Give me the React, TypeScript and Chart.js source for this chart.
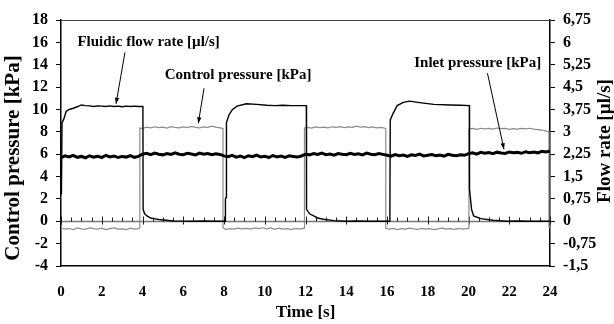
import React, { useEffect, useRef } from 'react';
import { Chart, registerables } from 'chart.js';

Chart.register(...registerables);

const FONT = "'Liberation Serif', 'Times New Roman', Times, serif";

// ---- axis ranges / labels ----
const timeMin = 0;
const timeMax = 24;
const timeStep = 2;
const pressureMin = -4;
const pressureMax = 18;
const pressureStep = 2;
const flowMin = -1.5;
const flowMax = 6.75;
const flowStep = 0.75;

const xTitle = 'Time [s]';
const leftTitle = 'Control pressure [kPa]';
const rightTitle = 'Flow rate [µl/s]';

// ---- Fluidic flow rate [µl/s] (right axis) ----
const flowT = [
  0.02, 0.05, 0.15, 0.25, 0.4, 0.6, 0.8, 1.0, 1.2, 1.4, 1.6, 1.8, 2.0, 2.2, 2.4, 2.6, 2.8, 3.0, 3.2, 3.4, 3.6, 3.8, 4.02,
  4.03, 4.1, 4.22, 4.4, 4.55, 4.8, 5.04, 5.5, 6.0, 6.5, 7.0, 7.5, 8.06,
  8.07, 8.1, 8.12, 8.25, 8.42, 8.64, 9.1, 9.6, 10.1, 10.5, 10.9, 11.3, 11.7, 12.04,
  12.05, 12.2, 12.4, 12.6, 12.88, 13.4, 14.0, 14.5, 15.0, 15.5, 16.14,
  16.16, 16.3, 16.5, 16.8, 17.1, 17.6, 18.3, 19.1, 19.6, 20.04,
  20.05, 20.15, 20.25, 20.6, 21.2, 21.9, 22.5, 23.0, 23.5, 24.0,
];
const flowV = [
  0.9, 3.3, 3.45, 3.68, 3.75, 3.79, 3.84, 3.9, 3.88, 3.87, 3.85, 3.87, 3.86, 3.85, 3.87, 3.85, 3.86, 3.84, 3.86, 3.85, 3.86, 3.85, 3.85,
  0.4, 0.26, 0.18, 0.11, 0.09, 0.06, 0.045, 0.01, 0.005, 0.0, 0.01, 0.0, 0.0,
  0.75, 0.8, 3.3, 3.58, 3.75, 3.86, 3.94, 3.92, 3.89, 3.88, 3.89, 3.88, 3.88, 3.88,
  0.4, 0.25, 0.18, 0.11, 0.07, 0.02, 0.0, 0.01, 0.0, 0.005, 0.0,
  3.4, 3.62, 3.88, 3.99, 4.03, 3.98, 3.92, 3.9, 3.89, 3.88,
  1.07, 0.4, 0.18, 0.09, 0.035, 0.0, 0.01, 0.0, 0.005, 0.0,
];

// ---- Control pressure [kPa] (left axis) ----
const ctrlT = [
  0.0, 0.2, 0.4, 0.6, 0.8, 1.0, 1.2, 1.4, 1.6, 1.8, 2.0, 2.2, 2.4, 2.6, 2.8, 3.0, 3.2, 3.4, 3.6, 3.8, 3.87,
  3.87, 4.0, 4.2, 4.4, 4.6, 4.8, 5.0, 5.2, 5.4, 5.6, 5.8, 6.0, 6.2, 6.4, 6.6, 6.8, 7.0, 7.2, 7.4, 7.6, 7.8, 7.95,
  7.95, 8.1, 8.3, 8.5, 8.7, 8.9, 9.1, 9.3, 9.5, 9.7, 9.9, 10.1, 10.3, 10.5, 10.7, 10.9, 11.1, 11.3, 11.5, 11.7, 11.95,
  11.95, 12.1, 12.3, 12.5, 12.7, 12.9, 13.1, 13.3, 13.5, 13.7, 13.9, 14.1, 14.3, 14.5, 14.7, 14.9, 15.1, 15.3, 15.5, 15.7, 15.94,
  15.94, 16.1, 16.3, 16.5, 16.7, 16.9, 17.1, 17.3, 17.5, 17.7, 17.9, 18.1, 18.3, 18.5, 18.7, 18.9, 19.1, 19.3, 19.5, 19.7, 20.02,
  20.02, 20.2, 20.4, 20.6, 20.8, 21.0, 21.2, 21.4, 21.6, 21.8, 22.0, 22.2, 22.4, 22.6, 22.8, 23.0, 23.2, 23.4, 23.6, 23.8, 23.95,
  23.95, 24.0,
];
const ctrlV = [
  -0.6, -0.7, -0.65, -0.75, -0.6, -0.68, -0.72, -0.6, -0.66, -0.7, -0.62, -0.74, -0.66, -0.6, -0.7, -0.68, -0.75, -0.62, -0.7, -0.66, -0.6,
  8.35, 8.3, 8.42, 8.36, 8.45, 8.38, 8.42, 8.34, 8.46, 8.4, 8.36, 8.44, 8.38, 8.48, 8.4, 8.36, 8.44, 8.4, 8.5, 8.42, 8.35, 8.3,
  -0.6, -0.72, -0.66, -0.7, -0.62, -0.68, -0.64, -0.7, -0.6, -0.66, -0.58, -0.68, -0.6, -0.72, -0.62, -0.7, -0.66, -0.74, -0.64, -0.7, -0.62,
  8.35, 8.4, 8.34, 8.44, 8.38, 8.42, 8.36, 8.45, 8.4, 8.47, 8.38, 8.44, 8.4, 8.5, 8.42, 8.46, 8.38, 8.44, 8.36, 8.4, 8.3,
  -0.62, -0.7, -0.64, -0.74, -0.66, -0.7, -0.62, -0.68, -0.72, -0.64, -0.7, -0.66, -0.74, -0.68, -0.62, -0.7, -0.66, -0.72, -0.64, -0.7, -0.64,
  8.25, 8.3, 8.22, 8.32, 8.26, 8.3, 8.24, 8.34, 8.28, 8.3, 8.22, 8.28, 8.24, 8.3, 8.26, 8.32, 8.24, 8.2, 8.16, 8.06, 8.02,
  -0.5, -0.6,
];

// ---- Inlet pressure [kPa] (left axis), sampled every 0.2 s from 0 to 24 s ----
const inletStep = 0.2;
const inletV = [
  5.7, 5.85, 5.75, 5.9, 5.72, 5.8, 5.68, 5.86, 5.74, 5.82, 5.7, 5.9, 5.76, 5.84, 5.7, 5.8, 5.74, 5.88, 5.72, 5.8,
  6.0, 6.08, 5.95, 6.1, 6.0, 5.94, 6.06, 5.98, 6.12, 6.0, 5.96, 6.08, 6.02, 5.94, 6.1, 6.0, 6.06, 5.96, 6.04, 5.98,
  5.85, 5.78, 5.9, 5.74, 5.84, 5.7, 5.86, 5.78, 5.92, 5.76, 5.82, 5.7, 5.88, 5.76, 5.84, 5.72, 5.86, 5.8, 5.74, 5.84,
  6.0, 5.94, 6.06, 5.98, 6.1, 5.96, 6.02, 5.92, 6.06, 6.0, 5.95, 6.08, 5.98, 6.04, 5.94, 6.1, 6.0, 5.96, 6.06, 5.98,
  5.9, 5.82, 5.96, 5.86, 5.92, 5.8, 5.94, 5.88, 6.0, 5.84, 5.9, 5.96, 5.86, 5.92, 5.82, 5.98, 5.9, 5.86, 5.94, 5.9,
  6.05, 6.12, 6.0, 6.16, 6.08, 6.14, 6.04, 6.18, 6.1, 6.06, 6.2, 6.12, 6.16, 6.08, 6.22, 6.14, 6.2, 6.12, 6.26, 6.2, 6.3,
];

// ---- annotation labels (anchored in data units: time, kPa) ----
const annLabels = ['Fluidic flow rate [µl/s]', 'Control pressure [kPa]', 'Inlet pressure [kPa]'];
const annLabelAt = [[4.3, 16.06], [8.69, 13.1], [20.45, 14.1]];
const annArrowFrom = [[3.14, 15.1], [7.02, 11.9], [20.93, 13.24]];
const annArrowTo = [[2.7, 10.5], [6.74, 8.77], [21.74, 6.44]];

const W = 614;
const H = 324;

const decorPlugin = {
  id: 'decor',
  beforeDatasetsDraw(chart: any) {
    const { ctx, chartArea } = chart;
    const xs = chart.scales.x;
    const ys = chart.scales.y;
    const y0 = Math.round(ys.getPixelForValue(0)) + 0.5;
    ctx.save();
    // top frame line
    ctx.strokeStyle = '#404040';
    ctx.lineWidth = 1;
    ctx.beginPath();
    ctx.moveTo(chartArea.left, Math.round(chartArea.top) + 0.5);
    ctx.lineTo(chartArea.right, Math.round(chartArea.top) + 0.5);
    ctx.stroke();
    // zero line
    ctx.strokeStyle = '#777777';
    ctx.lineWidth = 1.5;
    ctx.beginPath();
    ctx.moveTo(chartArea.left, y0);
    ctx.lineTo(chartArea.right, y0);
    ctx.stroke();
    // ticks on the zero line
    ctx.strokeStyle = '#202020';
    ctx.lineWidth = 1;
    for (let k = 0; k <= (timeMax - timeMin) * 2; k++) {
      const t = timeMin + k * 0.5;
      const px = Math.round(xs.getPixelForValue(t)) + 0.5;
      const major = k % 4 === 0;
      ctx.beginPath();
      ctx.moveTo(px, y0 - (major ? 5 : 4));
      ctx.lineTo(px, y0 + (major ? 3 : 0));
      ctx.stroke();
    }
    ctx.restore();
  },
  afterDraw(chart: any) {
    const { ctx, chartArea } = chart;
    const xs = chart.scales.x;
    const ys = chart.scales.y;
    ctx.save();
    ctx.fillStyle = '#000';
    ctx.textBaseline = 'middle';
    ctx.textAlign = 'center';
    // axis titles
    ctx.font = `bold 17px ${FONT}`;
    ctx.fillText(xTitle, (chartArea.left + chartArea.right) / 2, 313);
    ctx.save();
    ctx.translate(14, 158);
    ctx.rotate(-Math.PI / 2);
    ctx.font = `bold 21px ${FONT}`;
    ctx.fillText(leftTitle, 0, 0);
    ctx.restore();
    ctx.save();
    ctx.translate(605, 141);
    ctx.rotate(-Math.PI / 2);
    ctx.font = `bold 19px ${FONT}`;
    ctx.fillText(rightTitle, 0, 0);
    ctx.restore();
    // annotations
    ctx.font = `bold 15px ${FONT}`;
    for (let i = 0; i < annLabels.length; i++) {
      const lx = xs.getPixelForValue(annLabelAt[i][0]);
      const ly = ys.getPixelForValue(annLabelAt[i][1]);
      ctx.fillText(annLabels[i], lx, ly);
      const x1 = xs.getPixelForValue(annArrowFrom[i][0]);
      const y1 = ys.getPixelForValue(annArrowFrom[i][1]);
      const x2 = xs.getPixelForValue(annArrowTo[i][0]);
      const y2 = ys.getPixelForValue(annArrowTo[i][1]);
      ctx.strokeStyle = '#000';
      ctx.lineWidth = 1;
      ctx.beginPath();
      ctx.moveTo(x1, y1);
      ctx.lineTo(x2, y2);
      ctx.stroke();
      const a = Math.atan2(y2 - y1, x2 - x1);
      const L = 6;
      const hw = 2.2;
      ctx.beginPath();
      ctx.moveTo(x2, y2);
      ctx.lineTo(x2 - L * Math.cos(a) + hw * Math.sin(a), y2 - L * Math.sin(a) - hw * Math.cos(a));
      ctx.lineTo(x2 - L * Math.cos(a) - hw * Math.sin(a), y2 - L * Math.sin(a) + hw * Math.cos(a));
      ctx.closePath();
      ctx.fill();
    }
    ctx.restore();
  },
};

export default function App() {
  const ref = useRef<HTMLCanvasElement | null>(null);

  useEffect(() => {
    document.body.style.margin = '0';
    const canvas = ref.current;
    if (!canvas) return;
    const chart = new Chart(canvas, {
      type: 'line',
      data: {
        datasets: [
          {
            label: 'Fluidic flow rate [µl/s]',
            data: flowT.map((t, i) => ({ x: t, y: flowV[i] })),
            yAxisID: 'y1',
            borderColor: '#000',
            borderWidth: 1.4,
            pointRadius: 0,
            tension: 0,
          },
          {
            label: 'Inlet pressure [kPa]',
            data: inletV.map((v, i) => ({ x: i * inletStep, y: v })),
            yAxisID: 'y',
            borderColor: '#000',
            borderWidth: 3,
            pointRadius: 0,
            tension: 0,
          },
          {
            label: 'Control pressure [kPa]',
            data: ctrlT.map((t, i) => ({ x: t, y: ctrlV[i] })),
            yAxisID: 'y',
            borderColor: '#8c8c8c',
            borderWidth: 1.2,
            pointRadius: 0,
            tension: 0,
          },
        ],
      },
      options: {
        responsive: false,
        animation: false,
        devicePixelRatio: 1,
        layout: { padding: { top: 20, left: 0, right: 0, bottom: 0 } },
        plugins: { legend: { display: false }, tooltip: { enabled: false } },
        scales: {
          x: {
            type: 'linear',
            min: timeMin,
            max: timeMax,
            ticks: { stepSize: timeStep, color: '#000', font: { family: FONT, size: 15, weight: 'bold' }, padding: 17, maxRotation: 0 },
            grid: { display: false, drawTicks: false },
            border: { display: true, color: '#000', width: 1.5 },
            afterFit: (s: any) => { s.height = 58; },
          },
          y: {
            position: 'left',
            min: pressureMin,
            max: pressureMax,
            ticks: { stepSize: pressureStep, color: '#000', font: { family: FONT, size: 16, weight: 'bold' }, padding: 8 },
            grid: { display: true, drawOnChartArea: false, drawTicks: true, tickLength: 5, color: '#000' },
            border: { display: true, color: '#000', width: 1.5 },
            afterFit: (s: any) => { s.width = 61; },
          },
          y1: {
            position: 'right',
            min: flowMin,
            max: flowMax,
            ticks: {
              stepSize: flowStep,
              color: '#000',
              font: { family: FONT, size: 16, weight: 'bold' },
              padding: 8,
              callback: (v: any) => String(Math.round(Number(v) * 100) / 100).replace('.', ','),
            },
            grid: { display: true, drawOnChartArea: false, drawTicks: true, tickLength: 5, color: '#000' },
            border: { display: true, color: '#000', width: 1.5 },
            afterFit: (s: any) => { s.width = 64; },
          },
        },
      },
      plugins: [decorPlugin],
    });
    return () => chart.destroy();
  }, []);

  return (
    <div style={{ width: W, height: H, position: 'absolute', left: 0, top: 0 }}>
      <canvas ref={ref} width={W} height={H} style={{ width: W, height: H }} />
    </div>
  );
}
